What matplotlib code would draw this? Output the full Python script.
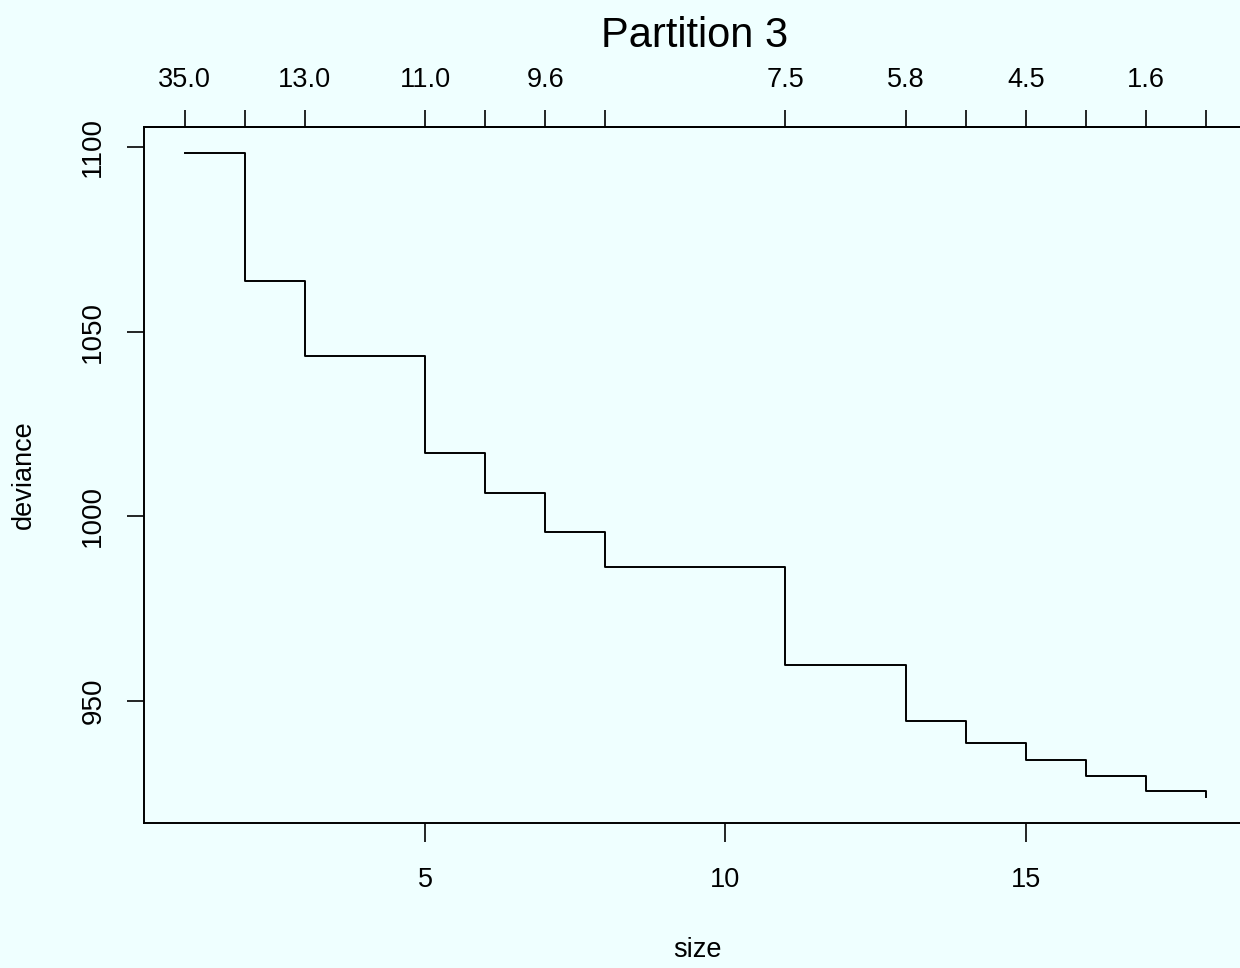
import matplotlib
matplotlib.use("Agg")
import matplotlib.pyplot as plt

# tree sizes and deviance
size = [1, 2, 3, 5, 6, 7, 8, 11, 13, 14, 15, 16, 17, 18]
deviance = [1098.4, 1063.7, 1043.4, 1017.1, 1006.2, 995.9, 986.2,
            959.9, 944.7, 938.8, 934.1, 929.8, 925.7, 924.1]
# cost-complexity k on the top axis (R drops the ones that overlap)
k_labels = ["35.0", "", "13.0", "11.0", "", "9.6", "",
            "7.5", "5.8", "", "4.5", "", "1.6", ""]

bottom_ticks = [5, 10, 15]
left_ticks = [950, 1000, 1050, 1100]

bg = "#EFFFFF"
plt.rcParams["font.family"] = ["Liberation Sans", "DejaVu Sans"]

fig = plt.figure(figsize=(12.4, 9.68), dpi=100, facecolor=bg)
ax = fig.add_axes([0.116, 0.150, 0.8895, 0.719])
ax.set_facecolor(bg)

ax.plot(size, deviance, drawstyle="steps-post", color="black", lw=1.4)

ax.set_xlim(0.32, 18.68)
ax.set_ylim(917.1, 1105.4)

ax.set_xticks(bottom_ticks)
ax.set_yticks(left_ticks)
ax.set_yticklabels([str(v) for v in left_ticks], rotation=90, va="center")
ax.tick_params(axis="x", length=14, width=1.2, pad=18, labelsize=19.5)
ax.tick_params(axis="y", length=12, width=1.2, pad=15, labelsize=20)

top = ax.secondary_xaxis("top")
top.set_xticks(size, labels=k_labels)
top.tick_params(length=12, width=1.2, pad=12, labelsize=19.5)

for sp in list(ax.spines.values()) + list(top.spines.values()):
    sp.set_linewidth(1.4)

ax.set_xlabel("size", fontsize=19.5, va="center", ha="center")
ax.xaxis.set_label_coords(0.502, -0.183)
ax.set_ylabel("deviance", fontsize=19.5, va="center", ha="center")
ax.yaxis.set_label_coords(-0.109, 0.50)

fig.text(0.5605, 1 - 36 / 968, "Partition 3", ha="center", va="center", fontsize=30)

fig.savefig("out.png", dpi=100, facecolor=bg)
